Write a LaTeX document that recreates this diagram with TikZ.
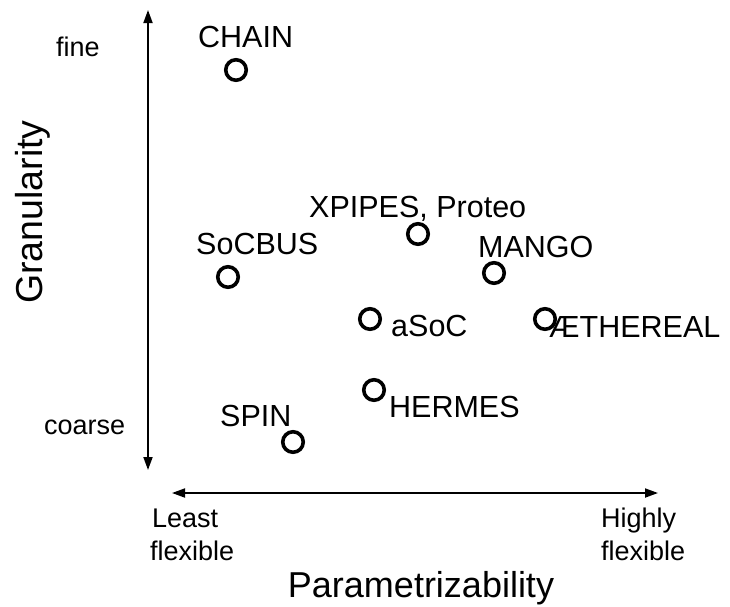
\documentclass[tikz,border=0pt]{standalone}
\usepackage{fontspec}
\setmainfont{Liberation Sans}
\usetikzlibrary{arrows.meta}
\begin{document}
\begin{tikzpicture}[x=1pt,y=-1pt,
  dot/.style={circle,draw,line width=3.6pt,minimum size=20.5pt,inner sep=0pt},
  lab/.style={font=\fontsize{30.5}{36}\selectfont,inner sep=0pt,anchor=base west},
  tick/.style={font=\fontsize{27}{33}\selectfont,inner sep=0pt,anchor=base west},
  axtitle/.style={font=\fontsize{36}{40}\selectfont,inner sep=0pt,anchor=base},
  axis/.style={line width=1.8pt,
    {Triangle[length=13pt,width=9pt]}-{Triangle[length=13pt,width=9pt]}}]
\useasboundingbox (0,0) rectangle (730,606);

% axes
\coordinate (ytop) at (148,10);
\coordinate (ybot) at (148,470);
\coordinate (xleft) at (172,493);
\coordinate (xright) at (658,493);
\draw[axis] (ybot) -- (ytop);
\draw[axis] (xleft) -- (xright);

% axis titles and end labels
\node[axtitle,font=\fontsize{37.5}{40}\selectfont,rotate=90] (gran) at (42,212) {Granularity};
\node[axtitle] (param) at (421,597) {Parametrizability};
\node[tick] (fine) at (56,56) {fine};
\node[tick] (coarse) at (44,434) {coarse};
\node[tick] (least) at (152,527) {Least};
\node[tick] (leastflex) at (150,560) {flexible};
\node[tick] (highly) at (601,527) {Highly};
\node[tick] (highflex) at (601,560) {flexible};

% networks-on-chip
\node[dot] (chain) at (236,70) {};
\node[dot] (xpipes) at (418,234) {};
\node[dot] (socbus) at (228,277) {};
\node[dot] (mango) at (494,273) {};
\node[dot] (asoc) at (370,319) {};
\node[dot] (aethereal) at (545,319) {};
\node[dot] (hermes) at (374,390) {};
\node[dot] (spin) at (293,442) {};

\node[lab] (chainlab) at (198,47) {CHAIN};
\node[lab] (xpipeslab) at (309,217) {XPIPES, Proteo};
\node[lab] (socbuslab) at (196,254) {SoCBUS};
\node[lab] (mangolab) at (478,257) {MANGO};
\node[lab] (asoclab) at (391,336) {aSoC};
\node[lab] (aetherlab) at (549,337) {ÆTHEREAL};
\node[lab] (hermeslab) at (389,417) {HERMES};
\node[lab] (spinlab) at (220,426) {SPIN};
\end{tikzpicture}
\end{document}
